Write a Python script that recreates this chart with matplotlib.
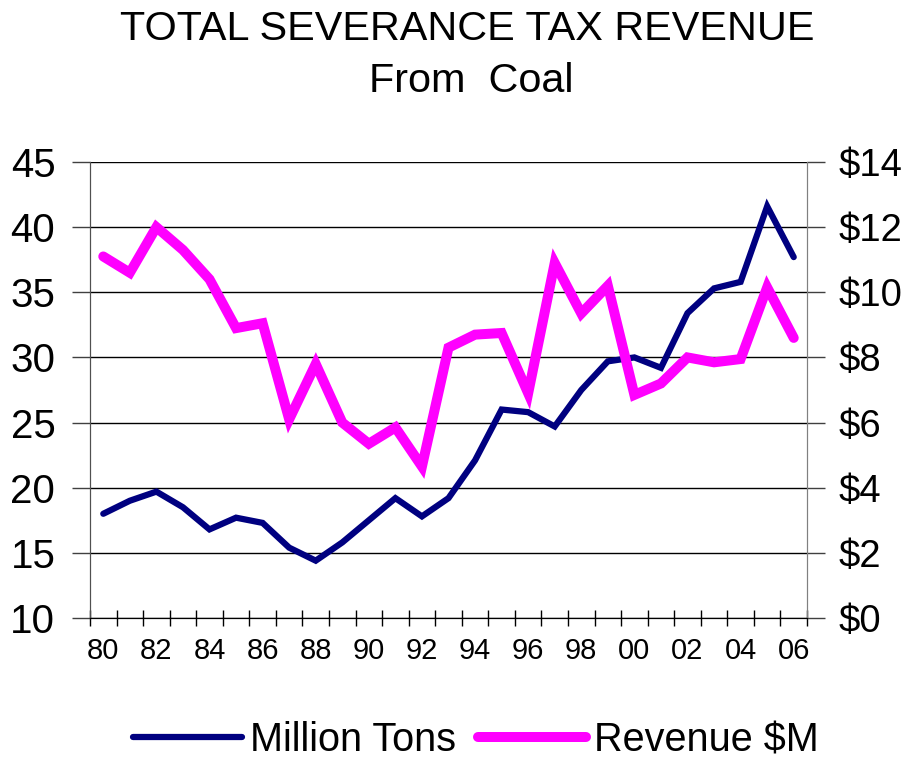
import matplotlib
matplotlib.use("Agg")
import matplotlib.pyplot as plt
import numpy as np

plt.rcParams["font.family"] = ["Liberation Sans", "DejaVu Sans"]

# fiscal years 1980 - 2006
years = ["80", "81", "82", "83", "84", "85", "86", "87", "88", "89",
         "90", "91", "92", "93", "94", "95", "96", "97", "98", "99",
         "00", "01", "02", "03", "04", "05", "06"]

# coal production, million tons (left axis)
million_tons = [18.0, 19.0, 19.7, 18.5, 16.8, 17.7, 17.3, 15.4, 14.4, 15.8,
                17.5, 19.2, 17.8, 19.2, 22.1, 26.0, 25.8, 24.7, 27.5, 29.7,
                30.0, 29.2, 33.4, 35.3, 35.8, 41.6, 37.7]

# severance tax revenue, $ millions (right axis)
revenue = [11.1, 10.6, 12.0, 11.3, 10.4, 8.9, 9.05, 6.1, 7.8, 6.0,
           5.35, 5.85, 4.65, 8.3, 8.7, 8.75, 6.9, 10.9, 9.35, 10.2,
           6.85, 7.2, 8.0, 7.85, 7.95, 10.15, 8.6]

left_ticks = [10, 15, 20, 25, 30, 35, 40, 45]
right_ticks = [0, 2, 4, 6, 8, 10, 12, 14]

navy = "#000080"
magenta = "#FF00FF"

x = np.arange(len(years))

fig = plt.figure(figsize=(9.09, 7.61), dpi=100)
ax = fig.add_axes([90 / 909, 1 - 618 / 761, 717 / 909, 456 / 761])
ax2 = ax.twinx()

ax.plot(x, million_tons, color=navy, lw=4.5, solid_joinstyle="miter",
        solid_capstyle="round", label="Million Tons")
ax2.plot(x, revenue, color=magenta, lw=7.2, solid_joinstyle="miter",
         solid_capstyle="round", label="Revenue $M")

ax.set_xlim(-0.5, len(years) - 0.5)
ax.set_ylim(left_ticks[0], left_ticks[-1])
ax2.set_ylim(right_ticks[0], right_ticks[-1])

ax.set_yticks(left_ticks)
ax.set_yticklabels([str(t) for t in left_ticks], fontsize=29)
ax2.set_yticks(right_ticks)
ax2.set_yticklabels(["$" + str(t) for t in right_ticks], fontsize=27.5)

# ticks between categories, labels on every other year
ax.set_xticks(np.arange(-0.5, len(years), 1))
ax.set_xticklabels([])
ax.set_xticks(x[::2], minor=True)
ax.set_xticklabels(years[::2], minor=True, fontsize=21)
ax.tick_params(axis="x", which="major", direction="inout", length=12, width=1)
ax.tick_params(axis="x", which="minor", length=0, pad=14)
ax.tick_params(axis="y", direction="out", length=13, width=1, pad=12,
               color="#404040")
ax2.tick_params(axis="y", direction="out", length=13, width=1, pad=10,
                color="#404040")
ax2.tick_params(axis="x", which="both", length=0)

ax.yaxis.grid(True, color="black", lw=1)
ax.set_axisbelow(True)

for a in (ax, ax2):
    a.spines["top"].set_visible(False)
    a.spines["left"].set_color("#505050")
    a.spines["right"].set_color("#808080")
    a.spines["bottom"].set_color("black")

fig.text(467 / 909, 1 - 29 / 761, "TOTAL SEVERANCE TAX REVENUE",
         fontsize=29.8, ha="center", va="center")
fig.text(471 / 909, 1 - 81 / 761, "From  Coal",
         fontsize=29.8, ha="center", va="center")

h1, l1 = ax.get_legend_handles_labels()
h2, l2 = ax2.get_legend_handles_labels()
fig.legend(h1 + h2, l1 + l2, loc="center", bbox_to_anchor=(476 / 909, 1 - 740 / 761),
           ncol=2, frameon=False, fontsize=28.5, handlelength=2.75,
           handletextpad=0.2, columnspacing=0.55, borderpad=0)

fig.savefig("out.png", dpi=100)
